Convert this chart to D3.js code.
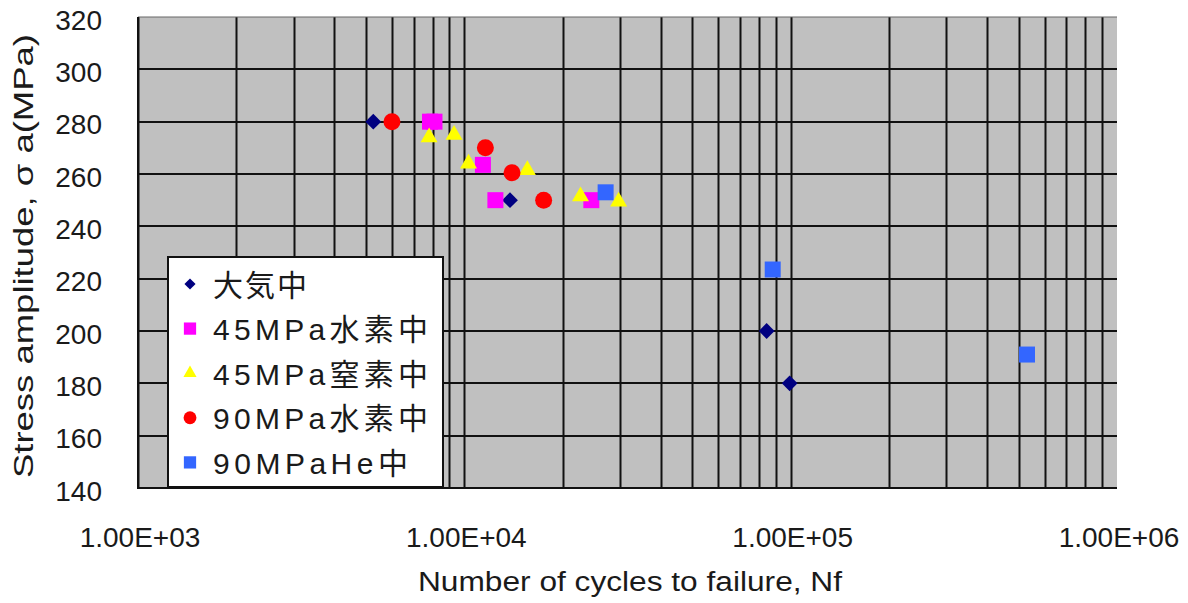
<!DOCTYPE html>
<html>
<head>
<meta charset="utf-8">
<script src="https://cdn.jsdelivr.net/npm/d3@7"></script>
<style>
  html, body { margin: 0; padding: 0; background: #ffffff; }
  svg { display: block; }
  text { font-family: "Liberation Sans", Arial, sans-serif; fill: #1a1a1a; }
  .jp { font-family: "Liberation Sans", "Noto Sans CJK JP", sans-serif; }
</style>
</head>
<body>
<svg id="chart" width="1188" height="603"></svg>
<script>
// S-N fatigue data: cycles to failure vs stress amplitude, per test environment
const seriesNames = ["大気中", "45MPa水素中", "45MPa窒素中", "90MPa水素中", "90MPaHe中"];

const airCycles = [5260, 13800, 84400, 99300];
const airStress = [280, 250, 200, 180];

const h2_45Cycles = [7850, 8100, 11400, 12450, 24500];
const h2_45Stress = [280, 280, 263.5, 250, 250];

const n2_45Cycles = [7800, 9300, 10300, 15600, 22700, 29700];
const n2_45Stress = [274, 275, 264, 261.5, 251.5, 249.5];

const h2_90Cycles = [6000, 11600, 14000, 17500];
const h2_90Stress = [280, 270, 260.5, 250];

const he90Cycles = [27100, 88100, 530000];
const he90Stress = [253, 223.5, 191];

const yTicks = [140, 160, 180, 200, 220, 240, 260, 280, 300, 320];
const xTickLabels = ["1.00E+03", "1.00E+04", "1.00E+05", "1.00E+06"];
const xTickValues = [1e3, 1e4, 1e5, 1e6];

const svg = d3.select("#chart");
const plotL = 138, plotR = 1117, plotT = 17, plotB = 488;

const x = d3.scaleLog().domain([1e3, 1e6]).range([plotL, plotR]);
const y = d3.scaleLinear().domain([140, 320]).range([plotB, plotT]);

// plot background
svg.append("rect")
  .attr("x", plotL).attr("y", plotT)
  .attr("width", plotR - plotL).attr("height", plotB - plotT)
  .attr("fill", "#c0c0c0");

// vertical log grid (every minor step), no line on the far right edge
const grid = svg.append("g");
const vLines = x.ticks().filter(v => v < 1e6);
grid.selectAll("line.v").data(vLines).join("line")
  .attr("x1", d => Math.round(x(d)) + 0.5).attr("x2", d => Math.round(x(d)) + 0.5)
  .attr("y1", plotT).attr("y2", plotB)
  .attr("stroke", "#111").attr("stroke-width", 2);

// horizontal grid
grid.selectAll("line.h").data(yTicks.filter(v => v < 320)).join("line")
  .attr("x1", plotL).attr("x2", plotR)
  .attr("y1", d => Math.round(y(d))).attr("y2", d => Math.round(y(d)))
  .attr("stroke", "#111").attr("stroke-width", 2);
grid.append("line")
  .attr("x1", plotL).attr("x2", plotR).attr("y1", plotT).attr("y2", plotT)
  .attr("stroke", "#666").attr("stroke-width", 1);

// y tick labels
svg.append("g").selectAll("text").data(yTicks).join("text")
  .attr("x", 102).attr("y", d => y(d) + 3)
  .attr("text-anchor", "end").attr("dominant-baseline", "central")
  .attr("font-size", 28)
  .text(d => d);

// x tick labels
svg.append("g").selectAll("text").data(xTickValues).join("text")
  .attr("x", d => x(d) + 2).attr("y", 537)
  .attr("text-anchor", "middle").attr("dominant-baseline", "central")
  .attr("font-size", 28)
  .text((d, i) => xTickLabels[i]);

// axis titles
svg.append("text")
  .attr("x", 630).attr("y", 582)
  .attr("text-anchor", "middle").attr("dominant-baseline", "central")
  .attr("font-size", 27)
  .attr("textLength", 424).attr("lengthAdjust", "spacingAndGlyphs")
  .text("Number of cycles to failure, Nf");

svg.append("text")
  .attr("transform", "translate(24,256) rotate(-90)")
  .attr("text-anchor", "middle").attr("dominant-baseline", "central")
  .attr("font-size", 27)
  .attr("textLength", 444).attr("lengthAdjust", "spacingAndGlyphs")
  .text("Stress amplitude, σ a(MPa)");

// marker definitions
const styles = [
  { color: "#000080", symbol: d3.symbolSquare, size: 125, rotate: 45, lsize: 62 },
  { color: "#ff00ff", symbol: d3.symbolSquare, size: 256, rotate: 0, lsize: 150 },
  { color: "#ffff00", symbol: d3.symbolTriangle, size: 125, rotate: 0, lsize: 75 },
  { color: "#ff0000", symbol: d3.symbolCircle, size: 227, rotate: 0, lsize: 130 },
  { color: "#3366ff", symbol: d3.symbolSquare, size: 256, rotate: 0, lsize: 150 }
];

const series = [
  airCycles.map((c, i) => ({ c, s: airStress[i] })),
  h2_45Cycles.map((c, i) => ({ c, s: h2_45Stress[i] })),
  n2_45Cycles.map((c, i) => ({ c, s: n2_45Stress[i] })),
  h2_90Cycles.map((c, i) => ({ c, s: h2_90Stress[i] })),
  he90Cycles.map((c, i) => ({ c, s: he90Stress[i] }))
];

const marks = svg.append("g");
series.forEach((pts, k) => {
  const st = styles[k];
  marks.append("g").selectAll("path").data(pts).join("path")
    .attr("d", d3.symbol().type(st.symbol).size(st.size))
    .attr("transform", d => `translate(${x(d.c)},${y(d.s)}) rotate(${st.rotate})`)
    .attr("fill", st.color);
});

// axis frame (left and bottom)
svg.append("line").attr("x1", plotL).attr("x2", plotL).attr("y1", plotT).attr("y2", plotB + 1)
  .attr("stroke", "#111").attr("stroke-width", 2);
svg.append("line").attr("x1", plotL).attr("x2", plotR).attr("y1", plotB).attr("y2", plotB)
  .attr("stroke", "#111").attr("stroke-width", 2);

// legend
const legend = svg.append("g");
legend.append("rect")
  .attr("x", 168).attr("y", 257).attr("width", 275).attr("height", 230)
  .attr("fill", "#ffffff").attr("stroke", "#111").attr("stroke-width", 2);

const legendWidths = [94, 215, 215, 215, 195];
seriesNames.forEach((name, k) => {
  const st = styles[k];
  const ly = 284 + k * 44.6;
  legend.append("path")
    .attr("d", d3.symbol().type(st.symbol).size(st.lsize))
    .attr("transform", `translate(190,${ly}) rotate(${st.rotate})`)
    .attr("fill", st.color);
  legend.append("text")
    .attr("class", "jp")
    .attr("x", 213).attr("y", ly + 1)
    .attr("dominant-baseline", "central")
    .attr("font-size", 30)
    .attr("textLength", legendWidths[k]).attr("lengthAdjust", "spacing")
    .text(name);
});
</script>
</body>
</html>
